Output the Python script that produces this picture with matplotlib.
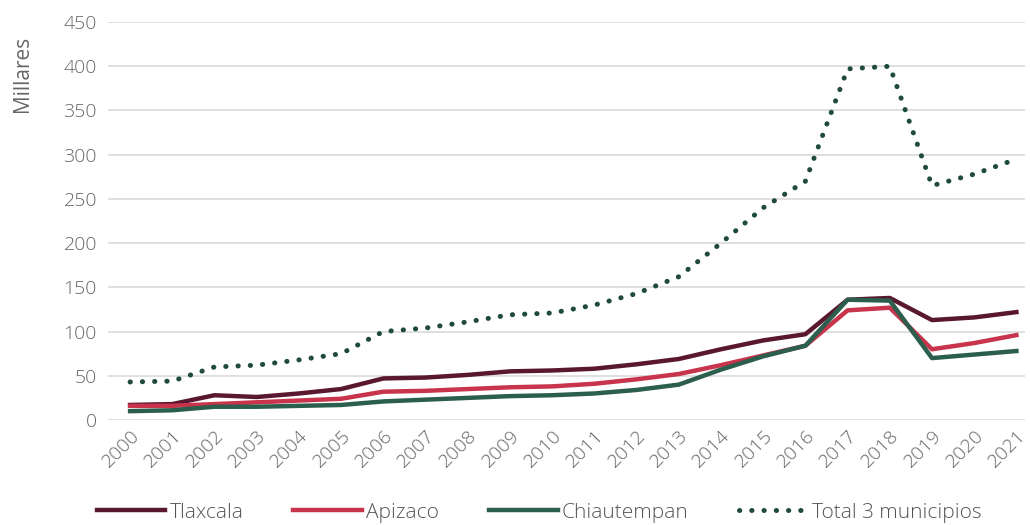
import matplotlib.pyplot as plt
import numpy as np

years = [str(y) for y in range(2000, 2022)]
tlaxcala = [17, 18, 28, 26, 30, 35, 47, 48, 51, 55, 56, 58, 63, 69, 80, 90, 97, 136, 138, 113, 116, 122]
apizaco = [16, 16, 18, 20, 22, 24, 32, 33, 35, 37, 38, 41, 46, 52, 62, 73, 84, 124, 127, 80, 87, 96]
chiautempan = [10, 11, 15, 15, 16, 17, 21, 23, 25, 27, 28, 30, 34, 40, 57, 72, 84, 136, 135, 70, 74, 78]
total = [43, 44, 60, 62, 68, 75, 100, 104, 111, 119, 121, 130, 143, 162, 200, 240, 270, 397, 400, 265, 278, 295]

plt.rcParams['font.family'] = ['Open Sans', 'DejaVu Sans']
plt.rcParams['font.weight'] = 'light'

fig = plt.figure(figsize=(10.3, 5.25), dpi=100)
ax = fig.add_axes([0.105, 0.2, 0.89, 0.758])

x = np.arange(len(years))
ax.plot(x, tlaxcala, color='#5a1830', lw=3.2, label='Tlaxcala', solid_joinstyle='round')
ax.plot(x, apizaco, color='#c8344c', lw=3.2, label='Apizaco', solid_joinstyle='round')
ax.plot(x, chiautempan, color='#2b5e4c', lw=3.2, label='Chiautempan', solid_joinstyle='round')
ax.plot(x, total, color='#1f4a3c', lw=3.6, linestyle=(0, (0.05, 2.4)),
        dash_capstyle='round', label='Total 3 municipios')

ax.set_xlim(-0.52, 21.2)
ax.set_ylim(0, 450)
ax.set_yticks(range(0, 451, 50))
ax.set_xticks(x)
ax.set_xticklabels(years, rotation=45, ha='right', rotation_mode='anchor')
ax.tick_params(axis='both', length=0, labelsize=14, colors='#666666', pad=8)
ax.tick_params(axis='x', pad=5)
ax.grid(axis='y', color='#d9d9d9', lw=1.2)
ax.set_axisbelow(True)
for s in ax.spines.values():
    s.set_visible(False)
ax.set_ylabel('Millares', fontsize=15, color='#666666', labelpad=2)
ax.yaxis.set_label_coords(-0.082, 0.87)

ax.legend(loc='lower center', bbox_to_anchor=(0.47, -0.305), ncol=4, frameon=False,
          fontsize=15, labelcolor='#555555', handlelength=3.3, handletextpad=0.2,
          columnspacing=2.4)

fig.savefig('out.png', dpi=100)
